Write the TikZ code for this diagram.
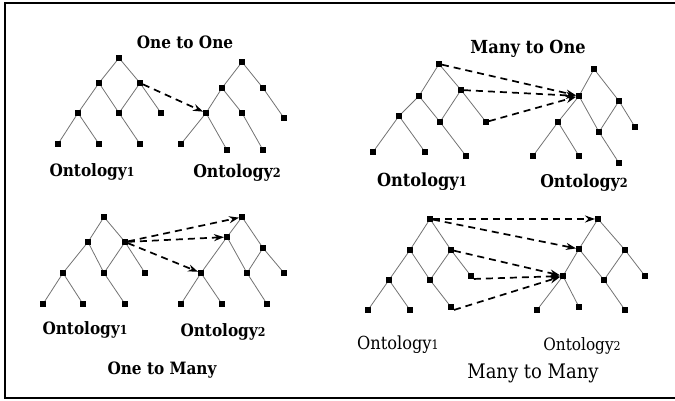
\documentclass[tikz,border=0pt]{standalone}
\usepackage{fontspec}
\setmainfont{DejaVu Serif Condensed}
\usetikzlibrary{arrows.meta}
\newcommand\smalldig[1]{\scalebox{0.72}{#1}}
\begin{document}
\begin{tikzpicture}[x=1pt,y=-1pt,
  nd/.style={rectangle,fill=black,inner sep=0pt,minimum size=5.5pt},
  edge/.style={draw=black!55,line width=0.8pt},
  map/.style={line width=1.7pt,dash pattern=on 7pt off 5pt,-{Stealth[length=10pt,width=7pt]}},
  lbl/.style={font=\fontsize{#1}{#1}\selectfont\bfseries,inner sep=0pt},
  lblr/.style={font=\fontsize{#1}{#1}\selectfont,inner sep=0pt}]
\useasboundingbox (0,0) rectangle (675,401);
\draw[line width=2pt] (676,3) -- (5,3) -- (5,398) -- (676,398);
% Panel 1: One to One
\foreach \n/\x/\y in {0/119/58,1/99/83,2/140/83,3/78/113,4/119/113,5/161/113,6/58/144,7/99/144,8/140/144}
  \node[nd] (a\n) at (\x,\y) {};
\foreach \n/\x/\y in {0/242/62,1/222/88,2/263/88,3/206/113,4/242/113,5/284/118,6/181/144,7/227/150,8/263/150}
  \node[nd] (b\n) at (\x,\y) {};
\foreach \u/\v in {0/1,0/2,1/3,1/4,2/4,2/5,3/6,3/7,4/8} \draw[edge] (a\u) -- (a\v);
\foreach \u/\v in {0/1,0/2,1/3,1/4,2/5,3/6,3/7,4/8} \draw[edge] (b\u) -- (b\v);
\draw[map] (a2) -- (b3);
\node[lbl=17] (t1) at (185,42) {One to One};
\node[lbl=17] (o11) at (92,172) {Ontology\smalldig{1}};
\node[lbl=17.5] (o12) at (237,173) {Ontology\smalldig{2}};
% Panel 2: Many to One
\foreach \n/\x/\y in {0/439/64,1/419/96,2/461/90,3/399/116,4/440/122,5/486/122,6/373/152,7/425/152,8/466/156}
  \node[nd] (c\n) at (\x,\y) {};
\foreach \n/\x/\y in {0/594/69,1/579/96,2/619/101,3/558/122,4/599/132,5/635/127,6/533/156,7/579/156,8/619/163}
  \node[nd] (d\n) at (\x,\y) {};
\foreach \u/\v in {0/1,0/2,1/3,1/4,2/4,2/5,3/6,3/7,4/8} \draw[edge] (c\u) -- (c\v);
\foreach \u/\v in {0/1,0/2,1/3,1/4,2/4,2/5,3/6,3/7,4/8} \draw[edge] (d\u) -- (d\v);
\draw[map] (c0) -- (d1);
\draw[map] (c2) -- (d1);
\draw[map] (c5) -- (d1);
\node[lbl=18] (t2) at (528,49) {Many to One};
\node[lbl=18] (o21) at (422,182) {Ontology\smalldig{1}};
\node[lbl=17.5] (o22) at (584,183) {Ontology\smalldig{2}};
% Panel 3: One to Many
\foreach \n/\x/\y in {0/104/217,1/88/242,2/125/242,3/63/273,4/104/273,5/145/273,6/43/304,7/83/304,8/125/304}
  \node[nd] (e\n) at (\x,\y) {};
\foreach \n/\x/\y in {0/242/217,1/227/237,2/263/248,3/201/273,4/247/273,5/284/273,6/181/304,7/222/304,8/267/304}
  \node[nd] (f\n) at (\x,\y) {};
\foreach \u/\v in {0/1,0/2,1/3,1/4,2/4,2/5,3/6,3/7,4/8} \draw[edge] (e\u) -- (e\v);
\foreach \u/\v in {0/1,0/2,1/3,1/4,2/4,2/5,3/6,3/7,4/8} \draw[edge] (f\u) -- (f\v);
\draw[map] (e2) -- (f0);
\draw[map] (e2) -- (f1);
\draw[map] (e2) -- (f3);
\node[lbl=17] (o31) at (85,330) {Ontology\smalldig{1}};
\node[lbl=17] (o32) at (223,332) {Ontology\smalldig{2}};
\node[lbl=17] (t3) at (162,370) {One to Many};
% Panel 4: Many to Many
\foreach \n/\x/\y in {0/430/219,1/410/250,2/451/250,3/389/280,4/430/280,5/471/276,6/368/310,7/410/310,8/451/307}
  \node[nd] (g\n) at (\x,\y) {};
\foreach \n/\x/\y in {0/598/219,1/579/249,2/625/250,3/563/276,4/604/280,5/645/276,6/537/310,7/579/307,8/625/310}
  \node[nd] (h\n) at (\x,\y) {};
\foreach \u/\v in {0/1,0/2,1/3,1/4,2/4,2/5,3/6,3/7,4/8} \draw[edge] (g\u) -- (g\v);
\foreach \u/\v in {0/1,0/2,1/3,1/4,2/4,2/5,3/6,3/7,4/8} \draw[edge] (h\u) -- (h\v);
\draw[map] (g0) -- (h0);
\draw[map] (g0) -- (h1);
\draw[map] (g2) -- (h3);
\draw[map] (g5.south east) -- (h3);
\draw[map] (g8.south east) -- (h3);
\node[lblr=18] (o41) at (398,345) {Ontology\smalldig{1}};
\node[lblr=17] (o42) at (582,346) {Ontology\smalldig{2}};
\node[lblr=20] (t4) at (533,373) {Many to Many};
\end{tikzpicture}
\end{document}
